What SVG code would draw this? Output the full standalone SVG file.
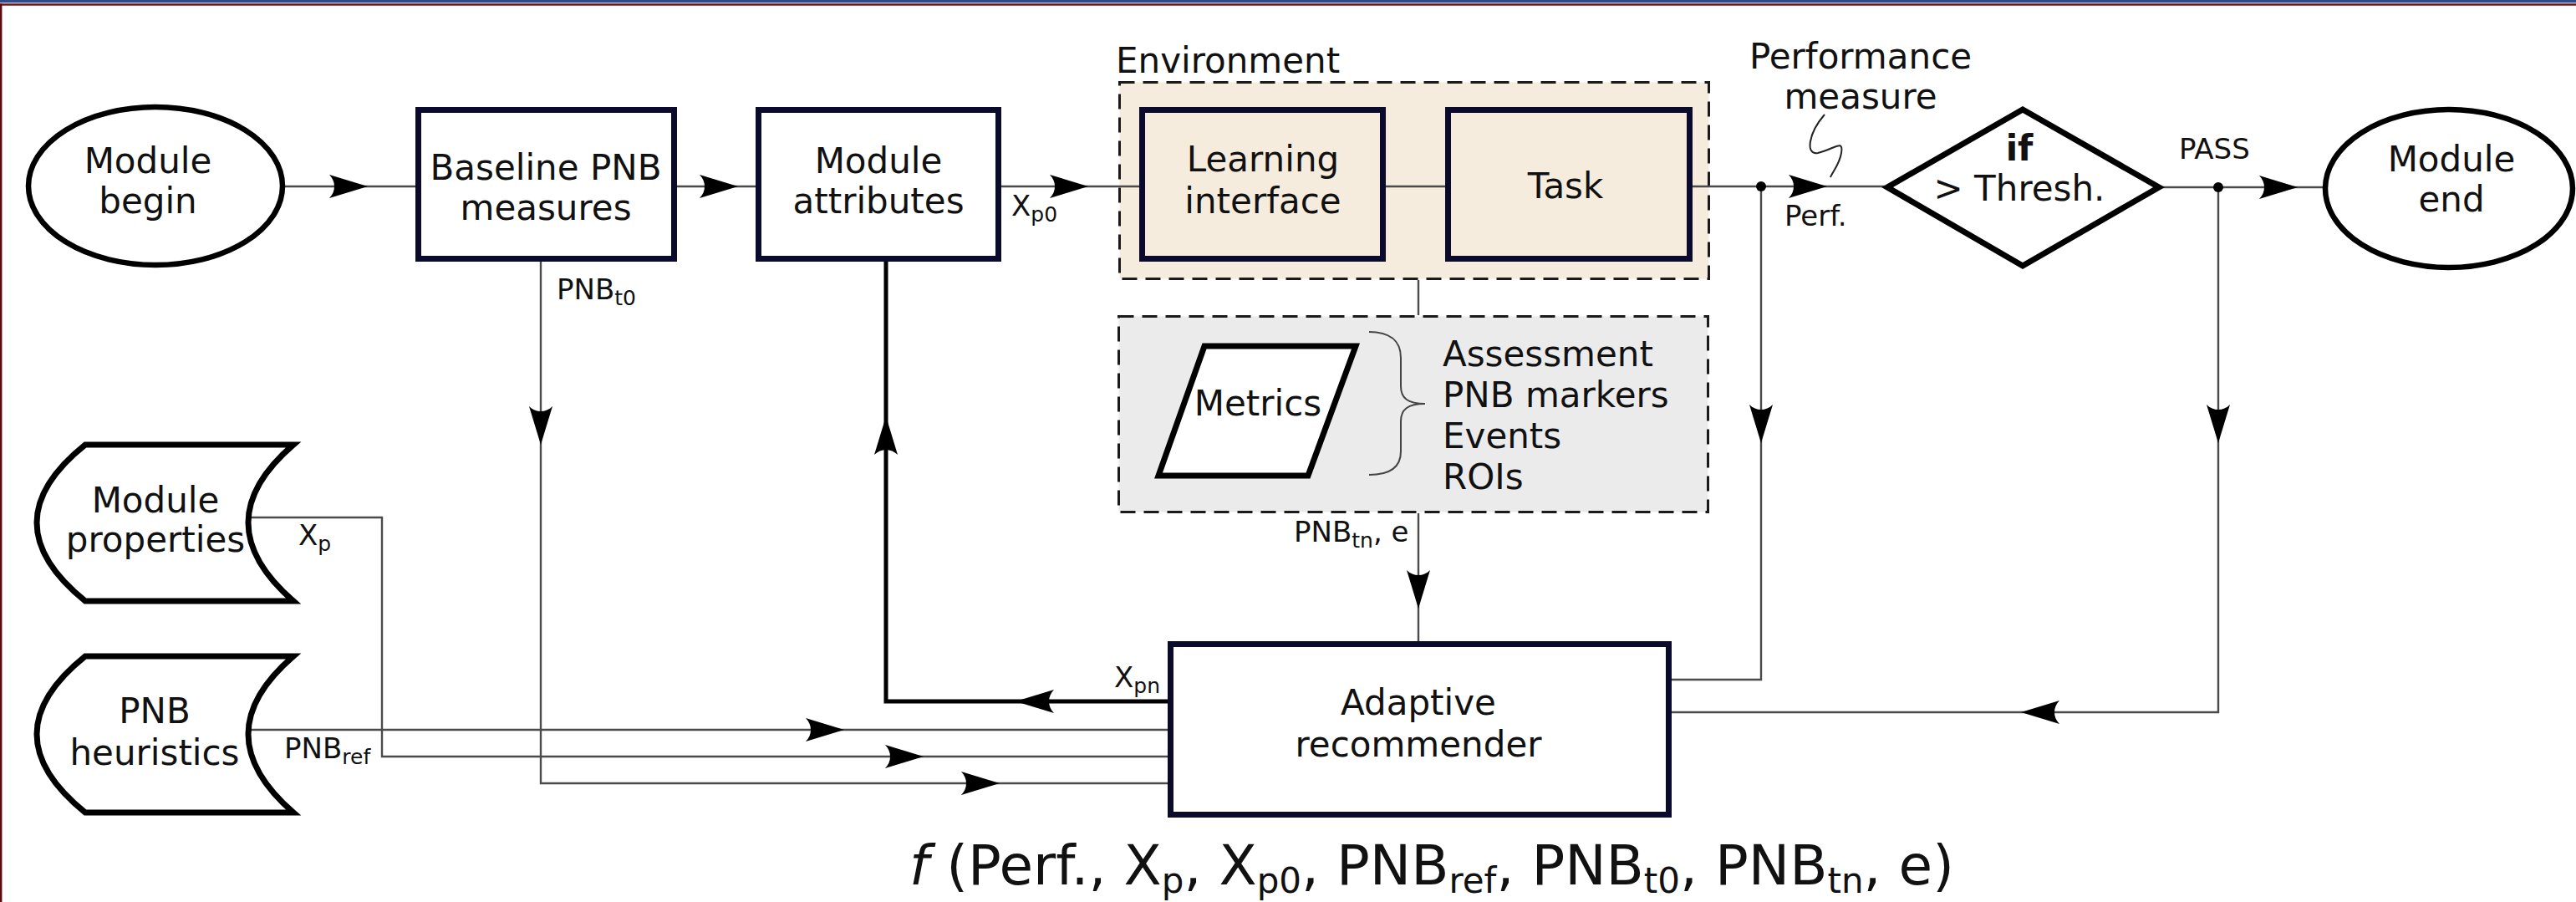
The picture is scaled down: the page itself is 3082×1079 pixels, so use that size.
<svg xmlns="http://www.w3.org/2000/svg" xmlns:xlink="http://www.w3.org/1999/xlink" width="3082" height="1079" viewBox="0 0 3082 1079">
  <style>
    text { font-family: "DejaVu Sans", "Liberation Sans", sans-serif; fill: #111; }
    .lbl { font-size: 42px; text-anchor: middle; }
    .lst { font-size: 42px; }
    .sm { font-size: 34px; }
    .sub { font-size: 25px; }
    .box { fill: #fff; stroke: #0a0a2c; stroke-width: 7; }
    .env { fill: #f5ecdd; }
    .term { fill: #fff; stroke: #000; stroke-width: 6.5; }
    .shape { fill: #fff; stroke: #000; stroke-width: 7; stroke-linejoin: miter; }
    .dash { stroke: #1a1a1a; stroke-width: 3; stroke-dasharray: 18 10; }
    .wire { fill: none; stroke: #4a4a4a; stroke-width: 2.4; }
    .bold { fill: none; stroke: #000; stroke-width: 5; }
    .head { fill: #000; }
  </style>
  <defs>
    <path id="ah" d="M0,0 L-46,-14 C-38,-6 -38,6 -46,14 Z"/>
  </defs>

  <!-- page frame bands -->
  <rect x="0" y="0" width="3082" height="3" fill="#2f4a8a"/>
  <rect x="0" y="3" width="3082" height="1.3" fill="#b9c6e4"/>
  <rect x="0" y="4.3" width="3082" height="2.4" fill="#6b1111"/>
  <rect x="0" y="4.3" width="2.4" height="1075" fill="#5a0b0b"/>

  <!-- containers -->
  <g id="environment">
    <rect class="dash" x="1339.5" y="98.5" width="705" height="235" fill="#f5ecdd"/>
    <text class="lst" x="1335" y="87">Environment</text>
  </g>
  <g id="metrics-panel">
    <rect class="dash" x="1338.5" y="378.5" width="705" height="234" fill="#ebebeb"/>
  </g>

  <!-- connectors -->
  <g id="connectors">
    <path class="wire" d="M341,223 H497"/>
    <path class="wire" d="M810,223 H904"/>
    <path class="wire" d="M1198,223 H1363"/>
    <path class="wire" d="M1658,223 H1729"/>
    <path class="wire" d="M2025,223 H2255"/>
    <path class="wire" d="M2587,224 H2780"/>
    <path class="wire" d="M647,313 V937 H1397"/>
    <path class="wire" d="M300,619 H457 V905 H1397"/>
    <path class="wire" d="M297,873 H1397"/>
    <path class="wire" d="M1697,335 V377"/>
    <path class="wire" d="M1697,614 V767"/>
    <path class="wire" d="M2107,223 V813 H2000"/>
    <path class="wire" d="M2654,224 V852 H2000"/>
    <path class="bold" d="M1397,839 H1060 V313"/>
    <circle cx="2107" cy="223" r="6" fill="#000"/>
    <circle cx="2654" cy="224" r="6" fill="#000"/>
    <!-- arrowheads -->
    <use class="head" xlink:href="#ah" transform="translate(440,223)"/>
    <use class="head" xlink:href="#ah" transform="translate(883,223)"/>
    <use class="head" xlink:href="#ah" transform="translate(1302,223)"/>
    <use class="head" xlink:href="#ah" transform="translate(2186,223)"/>
    <use class="head" xlink:href="#ah" transform="translate(2749,224)"/>
    <use class="head" xlink:href="#ah" transform="translate(647,532) rotate(90)"/>
    <use class="head" xlink:href="#ah" transform="translate(1060,498) rotate(-90)"/>
    <use class="head" xlink:href="#ah" transform="translate(1697,728) rotate(90)"/>
    <use class="head" xlink:href="#ah" transform="translate(2107,530) rotate(90)"/>
    <use class="head" xlink:href="#ah" transform="translate(2654,530) rotate(90)"/>
    <use class="head" xlink:href="#ah" transform="translate(2418,852) rotate(180)"/>
    <use class="head" xlink:href="#ah" transform="translate(1215,839) rotate(180)"/>
    <use class="head" xlink:href="#ah" transform="translate(1010,873)"/>
    <use class="head" xlink:href="#ah" transform="translate(1105,905)"/>
    <use class="head" xlink:href="#ah" transform="translate(1196,937)"/>
    <!-- performance measure leader -->
    <path d="M2183,137 C2163,160 2160,186 2175,183 C2195,178 2206,166 2203,183 C2201,196 2193,205 2190,212" fill="none" stroke="#222" stroke-width="2"/>
    <!-- connector labels -->
    <text class="sm" x="666" y="358">PNB<tspan class="sub" dy="7">t0</tspan></text>
    <text class="sm" x="1210" y="258">X<tspan class="sub" dy="7">p0</tspan></text>
    <text class="sm" x="2135" y="270">Perf.</text>
    <text class="sm" x="2607" y="190">PASS</text>
    <text class="sm" x="357" y="652">X<tspan class="sub" dy="7">p</tspan></text>
    <text class="sm" x="340" y="907">PNB<tspan class="sub" dy="7">ref</tspan></text>
    <text class="sm" x="1333" y="822">X<tspan class="sub" dy="7">pn</tspan></text>
    <text class="sm" x="1548" y="648">PNB<tspan class="sub" dy="7">tn</tspan><tspan dy="-7">, e</tspan></text>
    <text class="lbl" x="2226" y="82">Performance</text>
    <text class="lbl" x="2226" y="130">measure</text>
  </g>

  <!-- nodes -->
  <g id="module-begin">
    <ellipse class="term" cx="186" cy="222.5" rx="152" ry="94.5"/>
    <text class="lbl" x="177" y="207">Module</text>
    <text class="lbl" x="177" y="255">begin</text>
  </g>
  <g id="baseline-pnb">
    <rect class="box" x="500.5" y="131.5" width="306" height="178"/>
    <text class="lbl" x="653" y="215">Baseline PNB</text>
    <text class="lbl" x="653" y="263">measures</text>
  </g>
  <g id="module-attributes">
    <rect class="box" x="907.5" y="131.5" width="287" height="178"/>
    <text class="lbl" x="1051" y="207">Module</text>
    <text class="lbl" x="1051" y="255">attributes</text>
  </g>
  <g id="learning-interface">
    <rect class="box env" x="1366.5" y="131.5" width="288" height="178"/>
    <text class="lbl" x="1511" y="205">Learning</text>
    <text class="lbl" x="1511" y="255">interface</text>
  </g>
  <g id="task">
    <rect class="box env" x="1732.5" y="131.5" width="289" height="178"/>
    <text class="lbl" x="1873" y="237">Task</text>
  </g>
  <g id="threshold">
    <path class="shape" d="M2258,224 L2420,131 L2583,224 L2420,318 Z"/>
    <text class="lbl" x="2416" y="192" font-weight="bold">if</text>
    <text class="lbl" x="2416" y="240">&gt; Thresh.</text>
  </g>
  <g id="module-end">
    <ellipse class="term" cx="2930" cy="225.5" rx="148" ry="94.5"/>
    <text class="lbl" x="2933" y="205">Module</text>
    <text class="lbl" x="2933" y="253">end</text>
  </g>
  <g id="module-properties">
    <path class="shape" d="M102,532 L351,532 Q243,625 351,719 L102,719 Q-14,625 102,532 Z"/>
    <text class="lbl" x="186" y="613">Module</text>
    <text class="lbl" x="186" y="660">properties</text>
  </g>
  <g id="pnb-heuristics">
    <path class="shape" d="M102,785 L351,785 Q243,878 351,972 L102,972 Q-14,878 102,785 Z"/>
    <text class="lbl" x="185" y="865">PNB</text>
    <text class="lbl" x="185" y="915">heuristics</text>
  </g>
  <g id="metrics">
    <path class="shape" d="M1441,414 L1622,414 L1565,569 L1386,569 Z"/>
    <text class="lbl" x="1505" y="497">Metrics</text>
    <path d="M1638,397 C1662,397 1676,407 1676,428 L1676,462 C1676,476 1684,483 1705,483 C1684,483 1676,490 1676,504 L1676,540 C1676,560 1662,568 1638,568" fill="none" stroke="#444" stroke-width="2"/>
    <text class="lst" x="1726" y="438">Assessment</text>
    <text class="lst" x="1726" y="487">PNB markers</text>
    <text class="lst" x="1726" y="536">Events</text>
    <text class="lst" x="1726" y="585">ROIs</text>
  </g>
  <g id="adaptive-recommender">
    <rect class="box" x="1400.5" y="770.5" width="596" height="204"/>
    <text class="lbl" x="1697" y="855">Adaptive</text>
    <text class="lbl" x="1697" y="905">recommender</text>
  </g>

  <!-- recommender function -->
  <text x="1088" y="1058" font-size="66"><tspan font-style="italic">f</tspan> (Perf., X<tspan font-size="42" dy="10">p</tspan><tspan dy="-10">, X</tspan><tspan font-size="42" dy="10">p0</tspan><tspan dy="-10">, PNB</tspan><tspan font-size="42" dy="10">ref</tspan><tspan dy="-10">, PNB</tspan><tspan font-size="42" dy="10">t0</tspan><tspan dy="-10">, PNB</tspan><tspan font-size="42" dy="10">tn</tspan><tspan dy="-10">, e)</tspan></text>
</svg>
